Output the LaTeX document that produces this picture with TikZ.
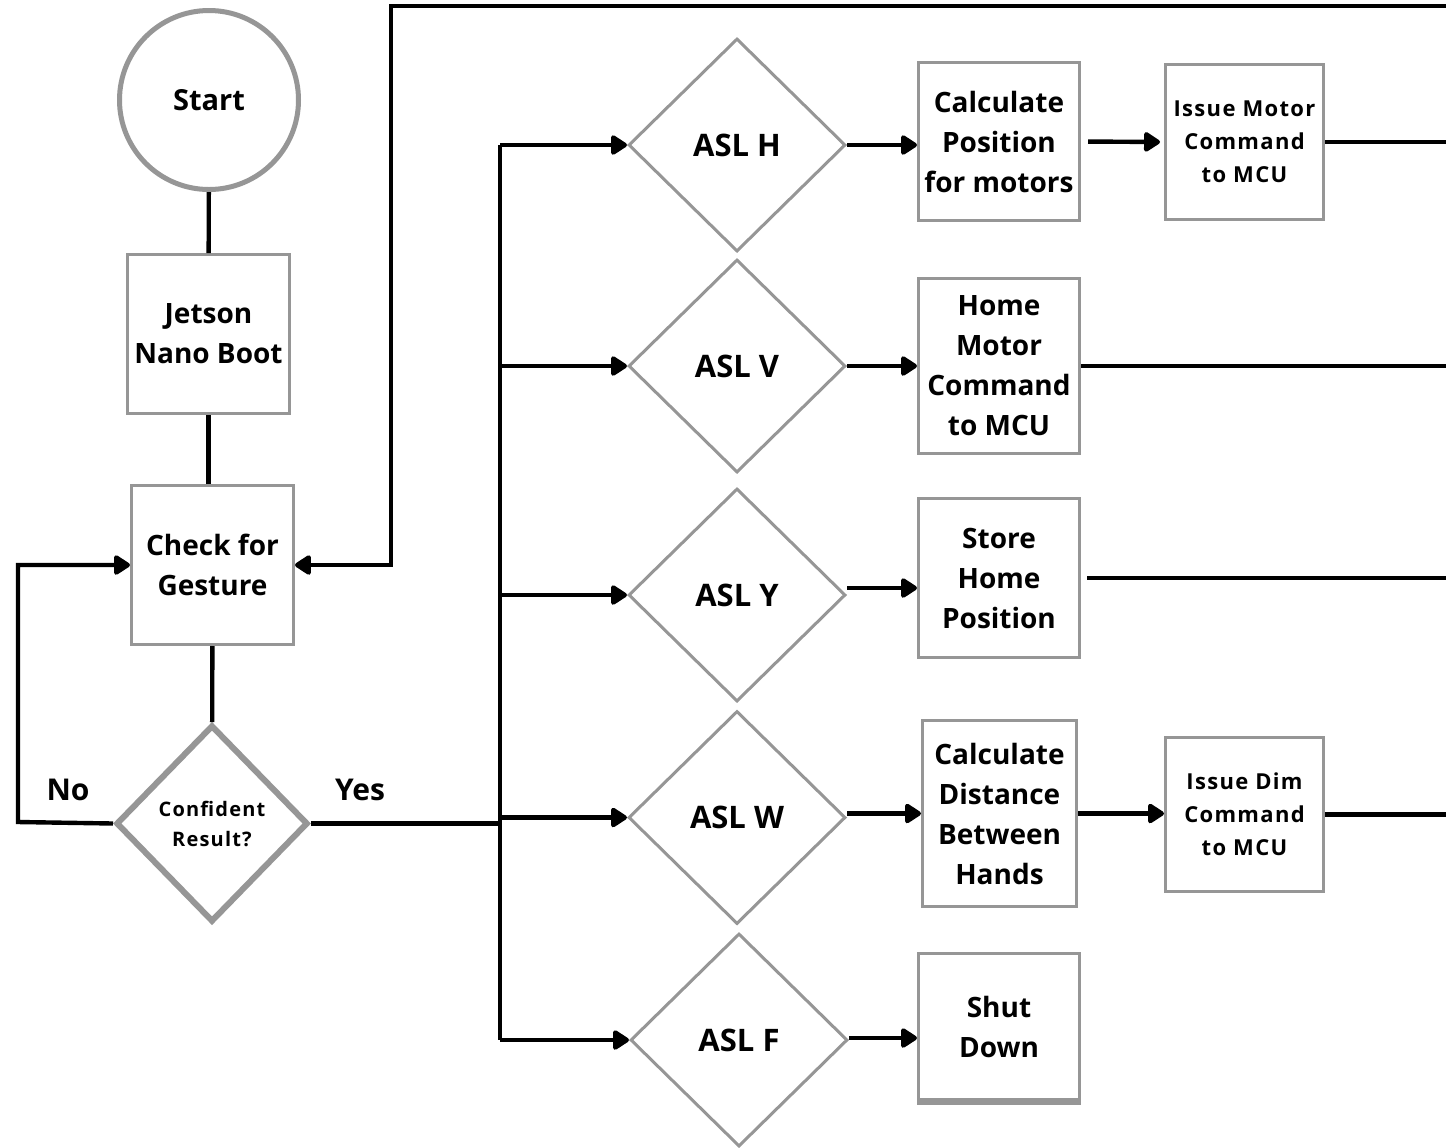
\documentclass[tikz,border=0pt]{standalone}
\usepackage{fontspec}
\setmainfont{Open Sans}
\usetikzlibrary{shapes.geometric,arrows.meta}
\definecolor{bgray}{RGB}{150,150,150}
\begin{document}
\begin{tikzpicture}[x=0.5pt,y=-0.5pt,
 box/.style={draw=bgray,line width=1.5pt,rectangle,inner sep=0pt,align=center,font=\bfseries\fontsize{14}{20}\selectfont},
 sbox/.style={box,font=\bfseries\fontsize{11}{16.5}\selectfont\addfontfeature{LetterSpace=6}},
 dec/.style={draw=bgray,line width=1.5pt,diamond,inner sep=0pt,minimum width=108.5pt,minimum height=106.5pt,font=\bfseries\fontsize{15.5}{20}\selectfont},
 conn/.style={line width=2.2pt,black},
 arr/.style={conn,-{Triangle[length=9pt,width=11pt,round]}},
 lbl/.style={font=\bfseries\fontsize{15}{20}\selectfont}
]
\useasboundingbox[fill=white] (0,0) rectangle (1446,1147);

% left column
\node[circle,draw=bgray,line width=2.5pt,minimum size=89.5pt,inner sep=0pt,font=\bfseries\fontsize{14.5}{20}\selectfont] (start) at (209,100) {Start};
\node[box,minimum width=81pt,minimum height=79.5pt] (jetson) at (208.5,334) {Jetson\\Nano Boot};
\node[box,minimum width=81pt,minimum height=79.5pt] (check) at (212.5,565) {Check for\\Gesture};
\node[diamond,draw=bgray,line width=3pt,inner sep=0pt,minimum width=96pt,minimum height=98.5pt,align=center,font=\bfseries\fontsize{10}{15}\selectfont\addfontfeature{LetterSpace=6}] (conf) at (212,823.5) {Confident\\Result?};

% decisions
\node[dec] (aslH) at (737,145) {ASL H};
\node[dec] (aslV) at (737,366) {ASL V};
\node[dec] (aslY) at (737,595) {ASL Y};
\node[dec] (aslW) at (737,817.5) {ASL W};
\node[dec] (aslF) at (739,1040) {ASL F};

% actions
\node[box,minimum width=80.5pt,minimum height=79pt] (calcP) at (999,141.5) {Calculate\\Position\\for motors};
\node[sbox,minimum width=79pt,minimum height=77.5pt] (issM) at (1244.5,142) {Issue Motor\\Command\\to MCU};
\node[box,minimum width=80.5pt,minimum height=87.5pt] (homeM) at (999,366) {Home\\Motor\\Command\\to MCU};
\node[box,minimum width=80.5pt,minimum height=79.5pt] (store) at (999,578) {Store\\Home\\Position};
\node[box,minimum width=77pt,minimum height=93pt] (calcD) at (999.5,813.5) {Calculate\\Distance\\Between\\Hands};
\node[sbox,minimum width=79pt,minimum height=77pt] (issD) at (1244.5,814.5) {Issue Dim\\Command\\to MCU};
\node[box,minimum width=80.5pt,minimum height=73.5pt] (shut) at (999,1026.5) {Shut\\Down};
\draw[bgray,line width=3.5pt] (shut.south west) -- (shut.south east);

% labels
\node[lbl] (no) at (68,790) {No};
\node[lbl] (yes) at (360,790) {Yes};

% coordinates
\coordinate (noc) at (18,822);
\coordinate (bustop) at (500,145);
\coordinate (busbot) at (500,1040);
\coordinate (fbR) at (1446,6);
\coordinate (fbL) at (391,6);

% main column connectors
\draw[conn] (start) -- (jetson);
\draw[conn] (jetson.south) -- (jetson.south |- check.north);
\draw[conn] (check) -- (conf);
\draw[arr] (conf.west) -- (noc) |- (check.west);
\draw[conn] (conf.east) -- (conf.east -| bustop);
\draw[conn] (bustop) -- (busbot);
\draw[arr] (fbR) -- (fbL) |- (check.east);

% bus branches
\draw[arr] (bustop) -- (aslH.west);
\draw[arr] (aslV.west -| bustop) -- (aslV.west);
\draw[arr] (aslY.west -| bustop) -- (aslY.west);
\draw[arr] (aslW.west -| bustop) -- (aslW.west);
\draw[arr] (busbot) -- (aslF.west);

% decision to action
\draw[arr] (aslH.east) -- (aslH.east -| calcP.west);
\draw[arr] (aslV.east) -- (aslV.east -| homeM.west);
\draw[arr] ([yshift=3.5pt]aslY.east) -- ([yshift=3.5pt]aslY.east -| store.west);
\draw[arr] ([yshift=2pt]aslW.east) -- ([yshift=2pt]aslW.east -| calcD.west);
\draw[arr] ([yshift=1pt]aslF.east) -- ([yshift=1pt]aslF.east -| shut.west);
\draw[arr,shorten <=3.5pt,shorten >=2pt] (calcP.east) -- (issM.west);
\draw[arr] (calcD.east) -- (calcD.east -| issD.west);

% exits to the right edge
\draw[conn] (issM.east) -- (issM.east -| fbR);
\draw[conn] (homeM.east) -- (homeM.east -| fbR);
\draw[conn,shorten <=3pt] (store.east) -- (store.east -| fbR);
\draw[conn] (issD.east) -- (issD.east -| fbR);
\end{tikzpicture}
\end{document}
